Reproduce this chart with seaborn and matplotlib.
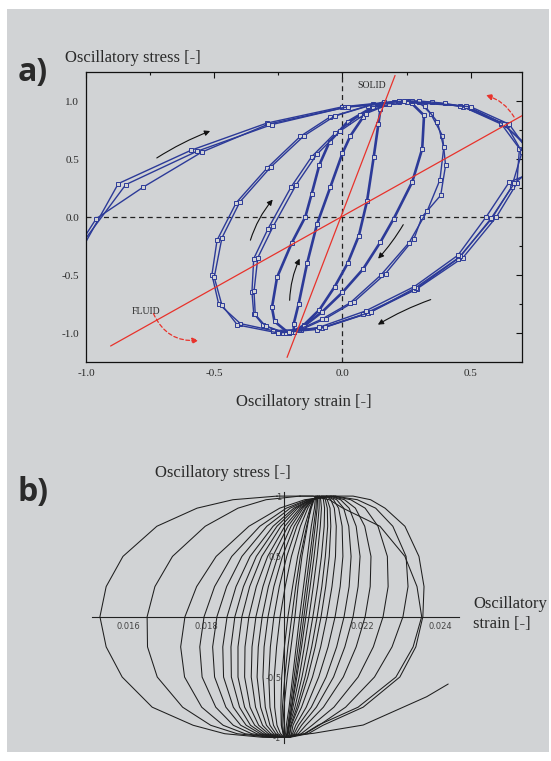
import numpy as np
import pandas as pd
import matplotlib
matplotlib.use("Agg")
import matplotlib.pyplot as plt
from matplotlib.patches import Rectangle
from matplotlib.ticker import FixedLocator, MultipleLocator
import seaborn as sns

# ---------------- data : panel a (strain, stress) ----------------
A_XTICKS = [-1.0, -0.5, 0.0, 0.5]
A_XTICKLABELS = ["-1.0", "-0.5", "0.0", "0.5"]
A_YTICKS = [-1.0, -0.5, 0.0, 0.5, 1.0]
A_YTICKLABELS = ["-1.0", "-0.5", "0.0", "0.5", "1.0"]

LOOP_A_X = [-0.19, -0.19, -0.171, -0.138, -0.099, -0.047, 0.0, 0.031, 0.08, 0.12, 0.16,
            0.148, 0.14, 0.122, 0.096, 0.064, 0.02, -0.03, -0.09, -0.15, -0.19]
LOOP_A_Y = [-0.99, -0.92, -0.75, -0.40, -0.06, 0.26, 0.55, 0.70, 0.86, 0.95, 0.99,
            0.93, 0.80, 0.52, 0.14, -0.16, -0.40, -0.60, -0.80, -0.93, -0.99]
LOOP_B_X = [-0.21, -0.265, -0.275, -0.255, -0.197, -0.145, -0.12, -0.09, -0.05, 0.02, 0.12, 0.22,
            0.27, 0.318, 0.311, 0.272, 0.2, 0.148, 0.08, 0.0, -0.08, -0.15, -0.21]
LOOP_B_Y = [-1.0, -0.90, -0.78, -0.52, -0.22, 0.0, 0.20, 0.45, 0.65, 0.82, 0.95, 0.99,
            0.98, 0.876, 0.589, 0.302, -0.014, -0.216, -0.45, -0.65, -0.82, -0.94, -1.0]
LOOP_C1_X = [-0.23, -0.31, -0.346, -0.353, -0.346, -0.29, -0.20, -0.12, -0.03, 0.07, 0.17, 0.25,
             0.30, 0.344, 0.39, 0.402, 0.383, 0.31, 0.279, 0.168, 0.044, -0.066, -0.16, -0.23]
LOOP_C1_Y = [-1.0, -0.93, -0.833, -0.647, -0.359, -0.10, 0.26, 0.52, 0.72, 0.88, 0.97, 1.0,
             0.99, 0.89, 0.70, 0.445, 0.187, 0.0, -0.187, -0.488, -0.733, -0.876, -0.97, -1.0]
LOOP_C2_X = [-0.22, -0.30, -0.34, -0.345, -0.33, -0.27, -0.18, -0.10, -0.01, 0.09, 0.18, 0.26,
             0.32, 0.37, 0.395, 0.38, 0.33, 0.26, 0.15, 0.03, -0.08, -0.17, -0.22]
LOOP_C2_Y = [-1.0, -0.94, -0.84, -0.64, -0.35, -0.08, 0.28, 0.54, 0.74, 0.89, 0.97, 1.0,
             0.96, 0.82, 0.60, 0.32, 0.05, -0.22, -0.50, -0.74, -0.88, -0.97, -1.0]
LOOP_D1_X = [-0.27, -0.398, -0.483, -0.509, -0.489, -0.414, -0.294, -0.164, -0.05, 0.10, 0.20, 0.27,
             0.35, 0.47, 0.62, 0.69, 0.68, 0.60, 0.47, 0.29, 0.10, -0.08, -0.27]
LOOP_D1_Y = [-0.98, -0.919, -0.747, -0.497, -0.20, 0.124, 0.422, 0.696, 0.86, 0.96, 0.99, 1.0,
             0.99, 0.95, 0.80, 0.59, 0.29, 0.0, -0.35, -0.62, -0.83, -0.96, -0.98]
LOOP_D2_X = [-0.25, -0.41, -0.47, -0.50, -0.47, -0.40, -0.28, -0.15, -0.03, 0.12, 0.22, 0.30,
             0.40, 0.50, 0.64, 0.70, 0.66, 0.58, 0.45, 0.28, 0.08, -0.10, -0.25]
LOOP_D2_Y = [-1.0, -0.93, -0.76, -0.52, -0.18, 0.13, 0.43, 0.70, 0.87, 0.97, 1.0, 1.0,
             0.98, 0.94, 0.79, 0.56, 0.26, -0.02, -0.36, -0.63, -0.84, -0.97, -1.0]
ARC_E1_X = [-1.06, -0.874, -0.591, -0.294, 0.0, 0.22, 0.46, 0.62, 0.72, 0.76, 0.67, 0.58, 0.46,
            0.285, 0.11, -0.07, -0.2]
ARC_E1_Y = [-0.45, 0.288, 0.575, 0.81, 0.95, 1.0, 0.96, 0.81, 0.62, 0.45, 0.29, -0.01, -0.34,
            -0.61, -0.82, -0.95, -0.99]
ARC_E2_X = [-1.04, -0.845, -0.568, -0.275, 0.01, 0.25, 0.48, 0.63, 0.73, 0.76, 0.65, 0.56, 0.45,
            0.28, 0.09, -0.09, -0.21]
ARC_E2_Y = [-0.30, 0.279, 0.566, 0.797, 0.945, 0.99, 0.955, 0.80, 0.58, 0.40, 0.30, 0.0, -0.33,
            -0.60, -0.81, -0.95, -0.99]
ARC_E3_X = [-1.02, -0.96, -0.776, -0.548, -0.29, 0.02, 0.24, 0.50, 0.65, 0.73]
ARC_E3_Y = [-0.22, -0.014, 0.259, 0.56, 0.80, 0.95, 1.0, 0.95, 0.80, 0.55]

SOLID_LINE_X = [-0.216, 0.205]
SOLID_LINE_Y = [-1.21, 1.22]
FLUID_LINE_X = [-0.904, 0.75]
FLUID_LINE_Y = [-1.112, 0.935]

# ---------------- data : panel b ----------------
B_XTICKS = [0.016, 0.018, 0.022, 0.024]
B_XTICKLABELS = ["0.016", "0.018", "0.022", "0.024"]
B_YTICKS = [-1.0, -0.5, 0.5, 1.0]
B_YTICKLABELS = ["-1", "-0.5", "0.5", "1"]
# stress levels of the left branch (top -> bottom); the right branch runs bottom -> top
B_LEVELS = [1.0, 0.97, 0.9, 0.75, 0.5, 0.25, 0.0, -0.25, -0.5, -0.75, -0.9, -0.97, -1.0]
B_LEFT = [
    [0.01982, 0.01869, 0.01777, 0.01674, 0.01587, 0.01544, 0.01528, 0.01544, 0.01585, 0.01662, 0.01767, 0.01848, 0.01946],
    [0.02041, 0.01954, 0.01882, 0.01798, 0.01714, 0.01669, 0.01649, 0.01650, 0.01675, 0.01740, 0.01812, 0.01880, 0.01964],
    [0.02131, 0.02053, 0.01989, 0.01910, 0.01826, 0.01776, 0.01746, 0.01735, 0.01745, 0.01789, 0.01844, 0.01900, 0.01969],
    [0.02126, 0.02060, 0.02006, 0.01938, 0.01866, 0.01822, 0.01795, 0.01784, 0.01790, 0.01825, 0.01870, 0.01917, 0.01974],
    [0.02121, 0.02063, 0.02016, 0.01956, 0.01892, 0.01853, 0.01828, 0.01817, 0.01822, 0.01851, 0.01889, 0.01930, 0.01980],
    [0.02118, 0.02067, 0.02025, 0.01972, 0.01913, 0.01877, 0.01854, 0.01843, 0.01845, 0.01870, 0.01903, 0.01939, 0.01982],
    [0.02113, 0.02067, 0.02030, 0.01982, 0.01929, 0.01896, 0.01874, 0.01864, 0.01865, 0.01886, 0.01914, 0.01946, 0.01985],
    [0.02110, 0.02069, 0.02035, 0.01992, 0.01943, 0.01912, 0.01892, 0.01882, 0.01882, 0.01899, 0.01925, 0.01953, 0.01987],
    [0.02108, 0.02071, 0.02041, 0.02002, 0.01958, 0.01929, 0.01910, 0.01900, 0.01899, 0.01913, 0.01935, 0.01960, 0.01990],
    [0.02103, 0.02071, 0.02045, 0.02010, 0.01971, 0.01946, 0.01928, 0.01918, 0.01916, 0.01927, 0.01945, 0.01966, 0.01992],
    [0.02100, 0.02072, 0.02049, 0.02018, 0.01984, 0.01960, 0.01944, 0.01934, 0.01931, 0.01940, 0.01955, 0.01973, 0.01995],
    [0.02097, 0.02073, 0.02054, 0.02026, 0.01996, 0.01974, 0.01959, 0.01949, 0.01946, 0.01952, 0.01964, 0.01979, 0.01997],
    [0.02092, 0.02072, 0.02056, 0.02033, 0.02007, 0.01988, 0.01974, 0.01965, 0.01961, 0.01964, 0.01973, 0.01985, 0.02000],
    [0.02090, 0.02074, 0.02061, 0.02042, 0.02019, 0.02003, 0.01990, 0.01981, 0.01975, 0.01976, 0.01982, 0.01991, 0.02003],
    [0.02087, 0.02076, 0.02067, 0.02053, 0.02035, 0.02022, 0.02010, 0.02001, 0.01994, 0.01992, 0.01993, 0.01998, 0.02005],
    [0.02085, 0.02077, 0.02070, 0.02058, 0.02042, 0.02030, 0.02020, 0.02010, 0.02002, 0.01996, 0.01994, 0.01998, 0.02003],
    [0.02082, 0.02074, 0.02068, 0.02060, 0.02046, 0.02036, 0.02028, 0.02018, 0.02008, 0.02000, 0.01997, 0.01999, 0.02001],
]
B_RIGHT = [
    [0.02015, 0.02062, 0.02100, 0.02203, 0.02297, 0.02338, 0.02356, 0.02359, 0.02346, 0.02310, 0.02259, 0.02222, 0.02177],
    [0.02010, 0.02052, 0.02087, 0.02190, 0.02287, 0.02331, 0.02353, 0.02341, 0.02310, 0.02246, 0.02151, 0.02116, 0.02074],
    [0.02010, 0.02054, 0.02090, 0.02158, 0.02232, 0.02277, 0.02305, 0.02318, 0.02313, 0.02279, 0.02235, 0.02188, 0.02131],
    [0.02010, 0.02044, 0.02072, 0.02128, 0.02190, 0.02229, 0.02254, 0.02267, 0.02265, 0.02241, 0.02208, 0.02171, 0.02126],
    [0.02013, 0.02037, 0.02056, 0.02101, 0.02152, 0.02185, 0.02208, 0.02221, 0.02223, 0.02207, 0.02183, 0.02155, 0.02121],
    [0.02013, 0.02031, 0.02045, 0.02083, 0.02127, 0.02156, 0.02177, 0.02190, 0.02195, 0.02185, 0.02167, 0.02145, 0.02118],
    [0.02013, 0.02026, 0.02037, 0.02070, 0.02108, 0.02135, 0.02154, 0.02167, 0.02172, 0.02166, 0.02153, 0.02135, 0.02113],
    [0.02013, 0.02022, 0.02030, 0.02057, 0.02089, 0.02113, 0.02131, 0.02144, 0.02151, 0.02149, 0.02140, 0.02127, 0.02110],
    [0.02013, 0.02019, 0.02023, 0.02045, 0.02073, 0.02094, 0.02110, 0.02123, 0.02132, 0.02134, 0.02129, 0.02120, 0.02108],
    [0.02010, 0.02015, 0.02019, 0.02037, 0.02061, 0.02080, 0.02095, 0.02107, 0.02116, 0.02120, 0.02118, 0.02111, 0.02103],
    [0.02010, 0.02014, 0.02017, 0.02033, 0.02054, 0.02071, 0.02085, 0.02097, 0.02106, 0.02112, 0.02111, 0.02106, 0.02100],
    [0.02008, 0.02011, 0.02014, 0.02028, 0.02046, 0.02061, 0.02074, 0.02086, 0.02096, 0.02103, 0.02104, 0.02101, 0.02097],
    [0.02005, 0.02009, 0.02013, 0.02023, 0.02039, 0.02052, 0.02064, 0.02075, 0.02085, 0.02093, 0.02096, 0.02094, 0.02092],
    [0.02005, 0.02009, 0.02012, 0.02020, 0.02033, 0.02045, 0.02056, 0.02067, 0.02077, 0.02086, 0.02090, 0.02090, 0.02090],
    [0.02005, 0.02009, 0.02012, 0.02019, 0.02030, 0.02041, 0.02051, 0.02061, 0.02071, 0.02080, 0.02085, 0.02086, 0.02087],
    [0.02003, 0.02007, 0.02010, 0.02016, 0.02026, 0.02036, 0.02046, 0.02056, 0.02066, 0.02076, 0.02082, 0.02083, 0.02085],
    [0.02001, 0.02004, 0.02006, 0.02013, 0.02022, 0.02031, 0.02040, 0.02050, 0.02060, 0.02070, 0.02078, 0.02080, 0.02082],
]
B_TAIL_STRAIN = [0.01990, 0.02075, 0.02203, 0.02289, 0.02366, 0.02421]
B_TAIL_STRESS = [-0.995, -0.967, -0.898, -0.774, -0.663, -0.558]

# ---------------- styling ----------------
W, H = 551, 761
BG = "#d1d3d5"
BLUE = "#2c3a98"
RED = "#e8322b"
TXT = "#2a2a2a"

sns.set_theme(style="white")
plt.rcParams["font.family"] = ["Liberation Serif", "DejaVu Serif"]
plt.rcParams["axes.facecolor"] = "none"

fig = plt.figure(figsize=(W / 100, H / 100), dpi=100)
fig.patch.set_facecolor("white")
fig.patches.append(Rectangle((7 / W, 9 / H), 542 / W, 743 / H, transform=fig.transFigure,
                             facecolor=BG, edgecolor="none", zorder=-10))

# ================= panel a =================
ax = fig.add_axes([86 / W, (H - 362) / H, 436 / W, 290 / H])
ax.set_xlim(-1.0, 0.7)
ax.set_ylim(-1.25, 1.25)
ax.axhline(0, color="#222222", ls=(0, (4, 3)), lw=0.9, zorder=1)
ax.axvline(0, color="#222222", ls=(0, (4, 3)), lw=0.9, zorder=1)

def frame(pairs):
    rows = []
    for name, xs, ys in pairs:
        for i, (x, y) in enumerate(zip(xs, ys)):
            rows.append({"loop": name, "order": i, "x": x, "y": y})
    return pd.DataFrame(rows)

thick = frame([("A", LOOP_A_X, LOOP_A_Y), ("B", LOOP_B_X, LOOP_B_Y)])
thin = frame([("C1", LOOP_C1_X, LOOP_C1_Y), ("C2", LOOP_C2_X, LOOP_C2_Y),
              ("D1", LOOP_D1_X, LOOP_D1_Y), ("D2", LOOP_D2_X, LOOP_D2_Y),
              ("E1", ARC_E1_X, ARC_E1_Y), ("E2", ARC_E2_X, ARC_E2_Y), ("E3", ARC_E3_X, ARC_E3_Y)])
mk = dict(marker="s", markersize=2.6, markerfacecolor=BG, markeredgecolor=BLUE, markeredgewidth=0.7)
sns.lineplot(data=thick, x="x", y="y", units="loop", estimator=None, sort=False,
             color=BLUE, lw=1.9, ax=ax, legend=False, zorder=2, **mk)
sns.lineplot(data=thin, x="x", y="y", units="loop", estimator=None, sort=False,
             color=BLUE, lw=1.0, ax=ax, legend=False, zorder=2, **mk)

ax.plot(SOLID_LINE_X, SOLID_LINE_Y, color=RED, lw=0.9, zorder=3)
ax.plot(FLUID_LINE_X, FLUID_LINE_Y, color=RED, lw=0.9, zorder=3)
ax.text(0.114, 1.135, "SOLID", fontsize=7, color=TXT, ha="center", va="center")
ax.text(-0.768, -0.813, "FLUID", fontsize=7, color=TXT, ha="center", va="center")

black_arrows = [((-0.724, 0.509), (-0.516, 0.741), -0.05),
                ((-0.359, -0.20), (-0.272, 0.15), -0.1),
                ((-0.206, -0.718), (-0.167, -0.359), -0.1),
                ((0.237, -0.066), (0.139, -0.359), -0.05),
                ((0.344, -0.712), (0.138, -0.928), 0.05)]
for s, e, r in black_arrows:
    ax.annotate("", xy=e, xytext=s,
                arrowprops=dict(arrowstyle="-|>", color="#111111", lw=0.8, mutation_scale=8,
                                shrinkA=0, shrinkB=0, connectionstyle=f"arc3,rad={r}"), zorder=4)
for s, e, r in [((-0.737, -0.833), (-0.561, -1.063), 0.35), ((0.669, 0.862), (0.559, 1.049), 0.2)]:
    ax.annotate("", xy=e, xytext=s,
                arrowprops=dict(arrowstyle="-|>", color=RED, lw=0.9, mutation_scale=9, ls=(0, (3, 2)),
                                shrinkA=0, shrinkB=0, connectionstyle=f"arc3,rad={r}"), zorder=4)

ax.xaxis.set_major_locator(FixedLocator(A_XTICKS))
ax.set_xticklabels(A_XTICKLABELS)
ax.yaxis.set_major_locator(FixedLocator(A_YTICKS))
ax.set_yticklabels(A_YTICKLABELS)
ax.xaxis.set_minor_locator(MultipleLocator(0.25))
ax.yaxis.set_minor_locator(MultipleLocator(0.25))
ax.tick_params(which="both", direction="in", top=True, right=True, color="#111111", width=0.8,
               labelsize=8, labelcolor=TXT)
ax.tick_params(which="major", length=4, pad=5)
ax.tick_params(which="minor", length=2.2)
for sp in ax.spines.values():
    sp.set_color("#111111")
    sp.set_linewidth(0.9)
ax.set_xlabel("")
ax.set_ylabel("")

fig.text(65 / W, 1 - 62 / H, "Oscillatory stress [-]", fontsize=12, color=TXT, va="baseline")
fig.text(304 / W, 1 - 402 / H, "Oscillatory strain [-]", fontsize=12, color=TXT, ha="center", va="center")
fig.text(18 / W, 1 - 81.5 / H, "a)", fontsize=23, weight="bold", family=["Open Sans", "DejaVu Sans"],
         color=TXT, va="baseline")

# ================= panel b =================
bx = fig.add_axes([80 / W, (H - 750) / H, 390 / W, 265 / H])
bx.set_xlim(0.014769, 0.024769)
bx.set_ylim(-1.105, 1.092)

rows = []
for k, (lft, rgt) in enumerate(zip(B_LEFT, B_RIGHT)):
    xs = list(lft) + list(rgt) + [lft[0]]
    ys = list(B_LEVELS) + list(B_LEVELS[::-1]) + [B_LEVELS[0]]
    for x, y in zip(xs, ys):
        rows.append({"loop": k, "strain": x, "stress": y})
for x, y in zip(B_TAIL_STRAIN, B_TAIL_STRESS):
    rows.append({"loop": 99, "strain": x, "stress": y})
dfb = pd.DataFrame(rows)
sns.lineplot(data=dfb, x="strain", y="stress", units="loop", estimator=None, sort=False,
             color="#1e1e1e", lw=0.75, ax=bx, legend=False)

for side in ("top", "right"):
    bx.spines[side].set_visible(False)
bx.spines["left"].set_position(("data", 0.020))
bx.spines["bottom"].set_position(("data", 0.0))
bx.spines["left"].set_bounds(-1.047, 1.036)
bx.spines["bottom"].set_bounds(0.01507, 0.02449)
for side in ("left", "bottom"):
    bx.spines[side].set_color("#222222")
    bx.spines[side].set_linewidth(0.8)
bx.xaxis.set_major_locator(FixedLocator(B_XTICKS))
bx.set_xticklabels(B_XTICKLABELS)
bx.xaxis.set_minor_locator(MultipleLocator(0.0005))
bx.yaxis.set_major_locator(FixedLocator(B_YTICKS))
bx.set_yticklabels(B_YTICKLABELS)
bx.yaxis.set_minor_locator(MultipleLocator(0.1))
bx.tick_params(which="both", direction="in", length=2.2, width=0.6, color="#333333",
               labelsize=6, labelcolor="#444444")
bx.tick_params(axis="x", pad=4)
bx.tick_params(axis="y", pad=2)
for lab in bx.get_xticklabels() + bx.get_yticklabels():
    lab.set_family(["DejaVu Sans"])
bx.set_xlabel("")
bx.set_ylabel("")

fig.text(222.5 / W, 1 - 473 / H, "Oscillatory stress [-]", fontsize=12, color=TXT, ha="center", va="center")
fig.text(473 / W, 1 - 614 / H, "Oscillatory\nstrain [-]", fontsize=12, color=TXT, ha="left", va="center",
         linespacing=1.25)
fig.text(18 / W, 1 - 501 / H, "b)", fontsize=23, weight="bold", family=["Open Sans", "DejaVu Sans"],
         color=TXT, va="baseline")

fig.savefig("out.png", dpi=100, facecolor=fig.get_facecolor())
